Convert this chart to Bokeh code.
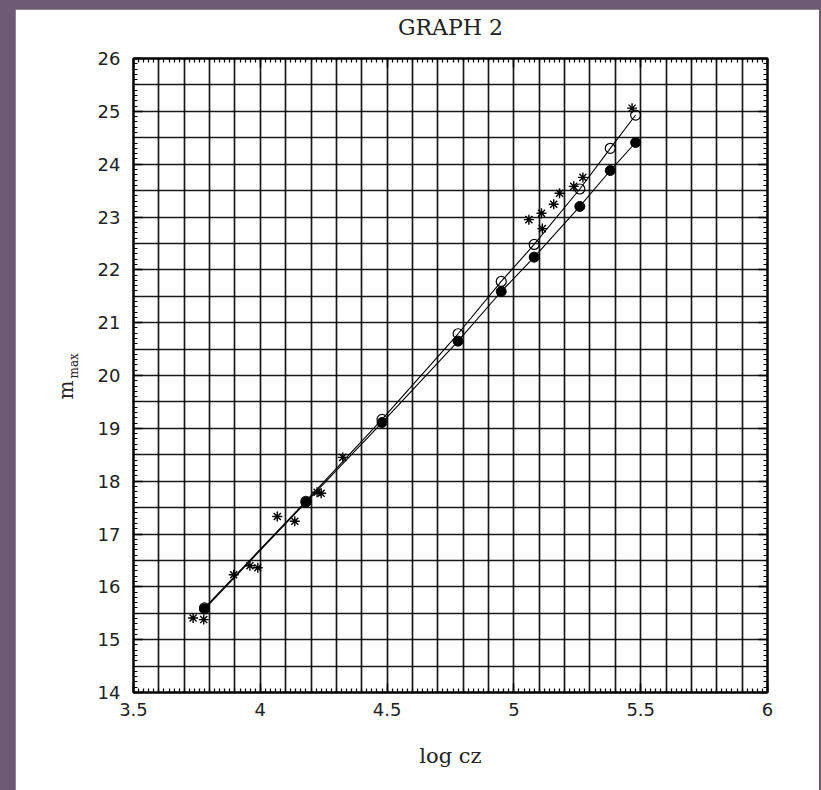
from bokeh.plotting import figure
from bokeh.models import (SingleIntervalTicker, LinearAxis, Title,
                          CustomJSTickFormatter, Column)
from bokeh.embed import file_html
from bokeh.resources import INLINE

# ---- data ----
log_cz = [3.78, 4.18, 4.48, 4.78, 4.95, 5.08, 5.26, 5.38, 5.48]
m_open = [15.60, 17.62, 19.17, 20.79, 21.78, 22.48, 23.53, 24.30, 24.93]
m_filled = [15.58, 17.60, 19.11, 20.65, 21.59, 22.24, 23.20, 23.88, 24.41]

star_x = [3.735, 3.777, 3.895, 3.959, 3.990, 4.067, 4.136, 4.224, 4.240,
          4.325, 5.059, 5.109, 5.112, 5.157, 5.180, 5.236, 5.272, 5.466]
star_y = [15.41, 15.38, 16.23, 16.40, 16.36, 17.33, 17.24, 17.79, 17.77,
          18.45, 22.95, 23.07, 22.78, 23.24, 23.45, 23.58, 23.75, 25.06]

title_text = "GRAPH 2"
x_label = "log cz"
y_label_main = "m"
y_label_sub = "max"

SERIF = "DejaVu Serif"
SANS = "DejaVu Sans"
INK = "#222222"

p = figure(width=804, height=781, x_range=(3.5, 6), y_range=(14, 26),
           output_backend="svg", toolbar_location=None,
           min_border_left=118, min_border_right=52,
           min_border_top=49, min_border_bottom=98)
p.background_fill_color = "white"
p.border_fill_color = "white"
p.outline_line_color = "black"
p.outline_line_width = 2
p.title.text = ""
p.title.standoff = 0

num_fmt = CustomJSTickFormatter(code="return String(Math.round(tick*10)/10)")
blank_fmt = CustomJSTickFormatter(code="return ''")


def style_axis(ax, formatter, standoff):
    ax.formatter = formatter
    ax.axis_line_color = "black"
    ax.axis_line_width = 2
    ax.major_tick_in = 9
    ax.major_tick_out = 0
    ax.minor_tick_in = 4
    ax.minor_tick_out = 0
    ax.major_tick_line_color = "black"
    ax.minor_tick_line_color = "black"
    ax.major_tick_line_width = 1.5
    ax.minor_tick_line_width = 1.2
    ax.major_label_text_font = SANS
    ax.major_label_text_font_size = "18px"
    ax.major_label_text_color = INK
    ax.major_label_standoff = standoff


xb = p.xaxis[0]
xb.ticker = SingleIntervalTicker(interval=0.5, num_minor_ticks=25)
style_axis(xb, num_fmt, 10)
xb.axis_label = x_label
xb.axis_label_text_font = SERIF
xb.axis_label_text_font_size = "21px"
xb.axis_label_text_font_style = "normal"
xb.axis_label_text_color = INK
xb.axis_label_standoff = 25

yl = p.yaxis[0]
yl.ticker = SingleIntervalTicker(interval=1, num_minor_ticks=10)
style_axis(yl, num_fmt, 13)

# top frame axis; its label carries the chart title "GRAPH 2"
xt = LinearAxis(ticker=SingleIntervalTicker(interval=0.5, num_minor_ticks=25))
style_axis(xt, blank_fmt, 0)
xt.axis_label = title_text
xt.axis_label_text_font = SERIF
xt.axis_label_text_font_size = "22px"
xt.axis_label_text_font_style = "normal"
xt.axis_label_text_color = INK
xt.axis_label_standoff = 19
p.add_layout(xt, "above")

yr = LinearAxis(ticker=SingleIntervalTicker(interval=1, num_minor_ticks=10))
style_axis(yr, blank_fmt, 0)
p.add_layout(yr, "right")

p.xgrid.ticker = SingleIntervalTicker(interval=0.1)
p.ygrid.ticker = SingleIntervalTicker(interval=0.5)
for g in (p.xgrid, p.ygrid):
    g.grid_line_color = "black"
    g.grid_line_width = 1.7
    g.grid_line_alpha = 0.9

# series
p.line(log_cz, m_open, line_color="black", line_width=1.1)
p.line(log_cz, m_filled, line_color="black", line_width=1.1)
p.scatter(log_cz, m_open, marker="circle", size=10, fill_color=None,
          line_color="black", line_width=1.2)
p.scatter(log_cz, m_filled, marker="circle", size=10, fill_color="black",
          line_color="black")
p.scatter(star_x, star_y, marker="asterisk", size=10, line_color="black",
          line_width=1.4)

# y-axis label m_max: main letter and subscript as side titles on the left
t_sub = Title(text=y_label_sub, align="left", offset=314,
              text_font=SERIF, text_font_size="12px",
              text_font_style="normal", text_color=INK, standoff=27)
p.add_layout(t_sub, "left")
t_main = Title(text=y_label_main, align="left", offset=293,
               text_font=SERIF, text_font_size="20px",
               text_font_style="normal", text_color=INK, standoff=-53)
p.add_layout(t_main, "left")

p.margin = (9, 2, 0, 15)
page = Column(children=[p], styles={"background-color": "#6f5a73"})

open("out.html", "w").write(file_html(page, INLINE))
